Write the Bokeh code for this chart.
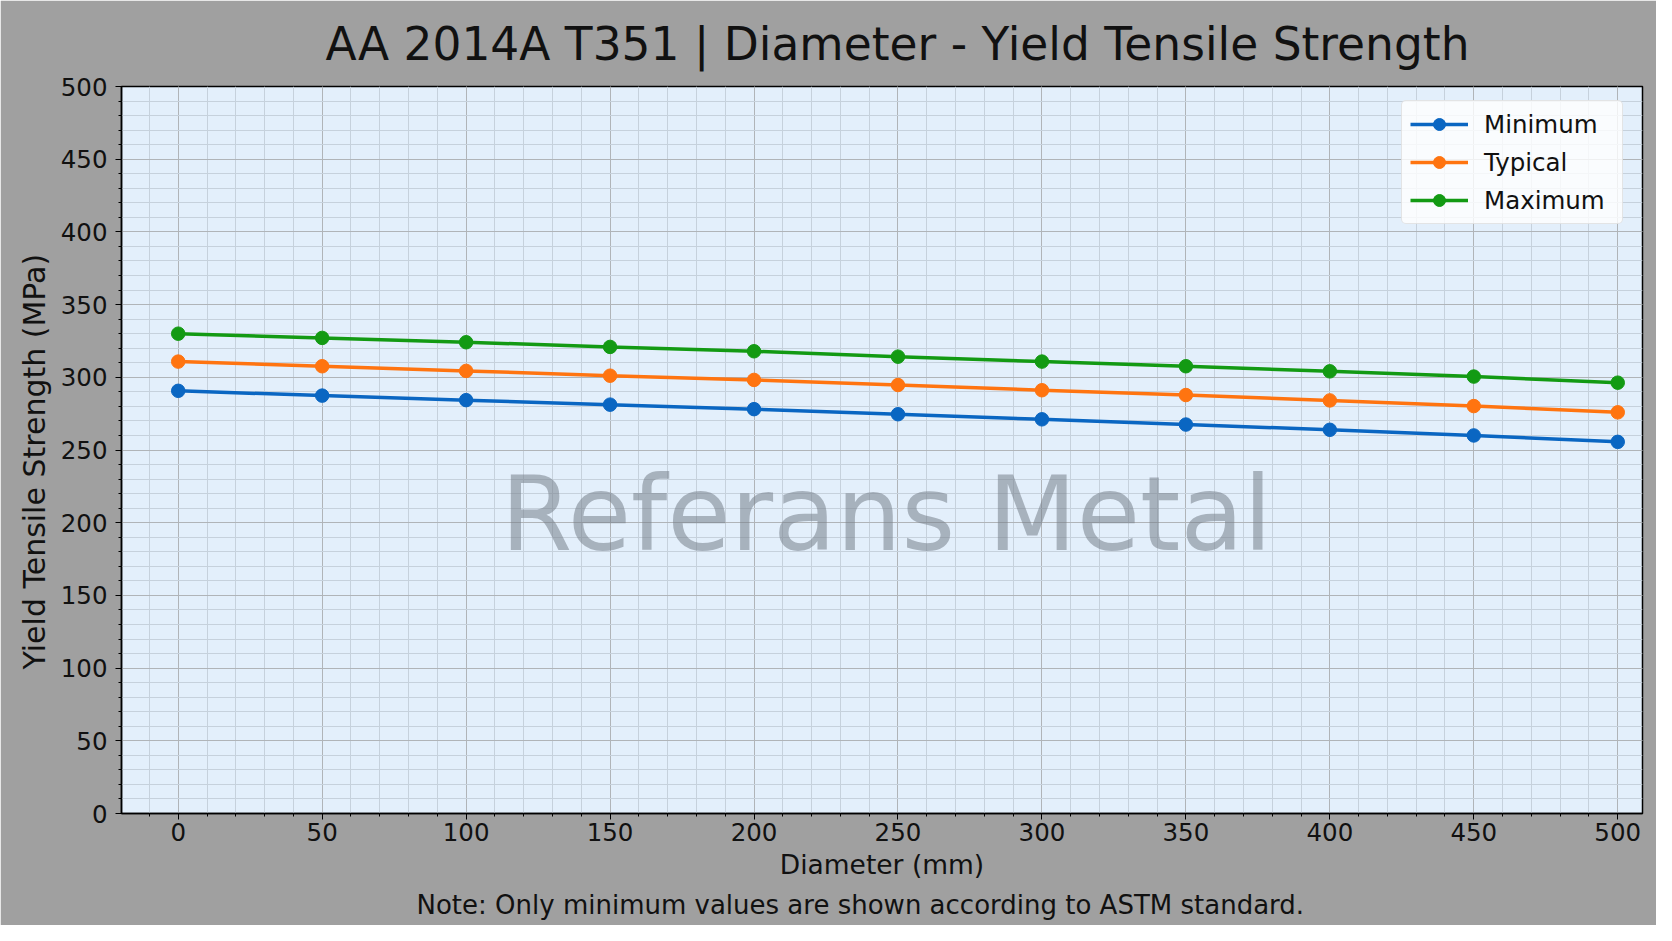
from bokeh.plotting import figure
from bokeh.models import Range1d, SingleIntervalTicker, Label, Title, Legend, LegendItem
from bokeh.embed import file_html
from bokeh.resources import INLINE

# ---- data ----
diameters = [0, 50, 100, 150, 200, 250, 300, 350, 400, 450, 500]
minimum = [290.7, 287.4, 284.3, 281.2, 278.1, 274.6, 271.1, 267.5, 263.9, 260.0, 255.6]
typical = [310.8, 307.6, 304.4, 301.1, 298.2, 294.7, 291.1, 287.8, 284.1, 280.2, 275.9]
maximum = [330.0, 327.1, 324.1, 320.9, 317.9, 314.2, 310.8, 307.6, 304.1, 300.5, 296.3]
series_names = ["Minimum", "Typical", "Maximum"]
series_colors = ["#0a66c2", "#ff7410", "#139a13"]

title_text = "AA 2014A T351 | Diameter - Yield Tensile Strength"
x_label = "Diameter (mm)"
y_label = "Yield Tensile Strength (MPa)"
note_text = "Note: Only minimum values are shown according to ASTM standard."
watermark = "Referans Metal"

FONT = "DejaVu Sans"

p = figure(
    width=1656, height=925,
    x_range=Range1d(-19.7, 508.6), y_range=Range1d(0, 500),
    output_backend="svg", toolbar_location=None,
    min_border_left=121, min_border_right=14, min_border_top=86, min_border_bottom=112,
    background_fill_color="#e3effb", border_fill_color="#a0a0a0",
)

# title
p.title.text = title_text
p.title.text_font = FONT
p.title.text_font_size = "45.5px"
p.title.text_font_style = "normal"
p.title.text_color = "#111111"
p.title.align = "left"
p.title.offset = 204
p.title.standoff = 31

# frame
p.outline_line_color = "black"
p.outline_line_width = 1.5

# axes
for ax in (p.xaxis[0], p.yaxis[0]):
    ax.ticker = SingleIntervalTicker(interval=50, num_minor_ticks=5)
    ax.axis_line_color = "black"
    ax.axis_line_width = 1.5
    ax.major_tick_line_color = "black"
    ax.minor_tick_line_color = "black"
    ax.major_tick_out = 6
    ax.major_tick_in = 0
    ax.minor_tick_out = 3
    ax.minor_tick_in = 0
    ax.major_label_text_font = FONT
    ax.major_label_text_font_size = "24.5px"
    ax.major_label_text_color = "#111111"
    ax.axis_label_text_font = FONT
    ax.axis_label_text_font_style = "normal"
    ax.axis_label_text_color = "#111111"

p.xaxis.axis_label = x_label
p.xaxis.axis_label_text_font_size = "26.5px"
p.xaxis.major_label_standoff = 3
p.xaxis.axis_label_standoff = 5
p.yaxis.major_label_standoff = 8

# y-axis label as a side title (so it can be placed along the axis)
p.add_layout(Title(text=y_label, align="left", offset=144, text_font=FONT,
                   text_font_size="30px", text_font_style="normal", text_color="#111111",
                   standoff=12), "left")

# grid
for g in (p.xgrid[0], p.ygrid[0]):
    g.grid_line_color = "#b0b4b8"
    g.grid_line_width = 1
    g.minor_grid_line_color = "#c6d1dc"
    g.minor_grid_line_width = 1

# watermark
p.add_layout(Label(x=246, y=206, text=watermark, text_font=FONT, text_font_size="103px",
                   text_color="#76808a", text_alpha=0.55, text_align="center",
                   text_baseline="alphabetic", level="underlay"))

# series
items = []
for name, vals, col in zip(series_names, [minimum, typical, maximum], series_colors):
    r1 = p.line(diameters, vals, line_color=col, line_width=3.5)
    r2 = p.scatter(diameters, vals, size=13.5, fill_color=col, line_color=col)
    items.append(LegendItem(label=name, renderers=[r1, r2]))

legend = Legend(items=items, location=(1280, 589))
legend.margin = 0
legend.padding = 8
legend.spacing = 8
legend.glyph_width = 58
legend.glyph_height = 30
legend.label_height = 30
legend.label_width = 130
legend.label_standoff = 16
legend.label_text_font = FONT
legend.label_text_font_size = "24.5px"
legend.label_text_color = "#111111"
legend.border_line_color = "#cccccc"
legend.border_line_width = 1.5
legend.border_radius = 5
legend.background_fill_color = "white"
legend.background_fill_alpha = 0.8
p.add_layout(legend)

# note
p.add_layout(Title(text=note_text, align="left", offset=295, text_font=FONT,
                   text_font_size="26px", text_font_style="normal", text_color="#111111",
                   standoff=10), "below")

open("out.html", "w").write(file_html(p, INLINE))
